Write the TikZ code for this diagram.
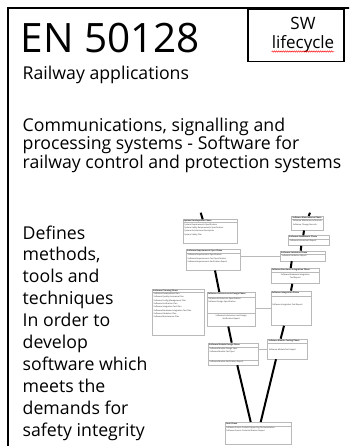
\documentclass[tikz,border=0pt]{standalone}
\usepackage{fontspec}
\setmainfont{Open Sans}
\usetikzlibrary{decorations.pathmorphing}
\tikzset{
 txt/.style={anchor=base west, inner sep=0pt, font=\fontsize{17.7}{18}\selectfont},
 swtxt/.style={anchor=base, inner sep=0pt, font=\fontsize{17}{18}\selectfont},
 phase/.style={draw=gray!55, line width=0.5pt, fill=white, inner sep=0pt},
 pline/.style={draw=gray!55, line width=0.4pt},
 hdr/.style={inner sep=0pt, anchor=north west, font=\fontsize{2}{2.3}\selectfont\bfseries, text=black!85},
 itm/.style={inner sep=0pt, anchor=north west, align=left, font=\fontsize{2}{3.3}\selectfont, text=black!85},
 itmc/.style={inner sep=0pt, anchor=north, align=center, font=\fontsize{2}{3}\selectfont, text=black!85},
 spine/.style={line width=2pt, black},
 link/.style={draw=gray!55, line width=0.5pt},
}
\newcommand\phasebox[8]{%
 \node[phase, anchor=north west, minimum width=#4pt, minimum height=#5pt] (#1) at (#2,#3) {};
 \draw[pline] ([yshift=-#6pt]#1.north west) -- ([yshift=-#6pt]#1.north east);
 \node[hdr] (#1h) at ([xshift=1pt,yshift=-0.7pt]#1.north west) {#7};
 \node[itm] (#1b) at ([xshift=1.5pt,yshift=-#6pt-0.9pt]#1.north west) {#8};
}
\begin{document}
\begin{tikzpicture}[x=1pt,y=-1pt]
\useasboundingbox (0,0) rectangle (349,446);
\begin{scope}
\clip (0,0) rectangle (349,446);
\draw[line width=2pt] (8.3,8.3) rectangle (370,470);
\end{scope}
\node[draw, line width=1.5pt, anchor=north west, minimum width=96pt, minimum height=52.5pt, inner sep=0pt] (swbox) at (247,8.3) {};
\node[swtxt] (sw1) at (303,30) {SW};
\node[swtxt] (sw2) at (303,48.3) {lifecycle};
\draw[red, line width=0.4pt, decorate, decoration={snake, amplitude=0.7pt, segment length=2.2pt}] ([yshift=-3.2pt]sw2.base west) -- ([yshift=-3.2pt]sw2.base east);

\node[anchor=base west, inner sep=0pt, font=\fontsize{40.5}{40}\selectfont] (title) at (20.5,53) {EN 50128};
\node[txt] (rail) at (22.5,80) {Railway applications};
\node[txt] (c1) at (22.5,131.7) {Communications, signalling and};
\node[txt] (c2) at (22.5,150) {processing systems - Software for};
\node[txt] (c3) at (22.5,168.3) {railway control and protection systems};

\node[txt] (d1) at (22.5,239) {Defines};
\node[txt] (d2) at (22.5,260.9) {methods,};
\node[txt] (d3) at (22.5,282.8) {tools and};
\node[txt] (d4) at (22.5,304.7) {techniques};
\node[txt] (d5) at (22.5,326.6) {In order to};
\node[txt] (d6) at (22.5,348.5) {develop};
\node[txt] (d7) at (22.5,370.4) {software which};
\node[txt] (d8) at (22.5,392.3) {meets the};
\node[txt] (d9) at (22.5,414.2) {demands for};
\node[txt] (d10) at (22.5,436.1) {safety integrity};

% V-model boxes
\phasebox{sysdev}{182.7}{219.3}{54.6}{24}{3.3}{System Development Phase}{System Requirements Specification\\System Safety Requirements Specification\\System Architecture Description\\System Safety Plan}
\phasebox{srs}{186}{249.3}{54}{20.7}{4}{Software Requirements Spec Phase}{Software Requirements Specification\\Software Requirements Test Specification\\Software Requirements Verification Report}
\phasebox{maint}{291.3}{216}{31.4}{14}{3.3}{Software Maintenance Phase}{Software Maintenance Records\\Software Change Records}
\phasebox{assess}{288}{235.3}{41.3}{10}{3.5}{Software Assessment Phase}{Software Assessment Report}
\phasebox{valid}{280}{250.7}{44.7}{10}{3.5}{Software Validation Phase}{Software Validation Report}
\phasebox{swhw}{270.7}{268}{48.6}{15.3}{4}{Software/Hardware Integration Phase}{}
\node[itmc] (swhwc) at ([yshift=-5.5pt]swhw.north) {Software/Hardware Integration\\Test Report};
\phasebox{integ}{270.7}{290.7}{40.6}{34.6}{5.5}{Software Integration Phase}{}
\node[itm] (integc) at ([xshift=1.5pt,yshift=-13.5pt]integ.north west) {Software Integration Test Report};
\phasebox{plan}{152}{288.7}{52}{46}{3.3}{Software Planning Phase}{Software Development Plan\\Software Quality Assurance Plan\\Software Config Management Plan\\Software Verification Plan\\Software Integration Test Plan\\Software/Hardware Integration Test Plan\\Software Validation Plan\\Software Maintenance Plan}
\phasebox{arch}{206.7}{292}{48.6}{34}{4.7}{Software Architecture \& Design Phase}{Software Architecture Specification\\Software Design Specification}
\draw[pline] ([yshift=-20.7pt]arch.north west) -- ([yshift=-20.7pt]arch.north east);
\node[itmc] (archc) at ([yshift=-23pt]arch.north) {Software Architecture and Design\\Verification Report};
\phasebox{moddes}{208}{342.7}{50}{22}{4}{Software Module Design Phase}{Software Module Design Spec\\Software Module Test Spec}
\draw[pline] ([yshift=-17.3pt]moddes.north west) -- ([yshift=-17.3pt]moddes.north east);
\node[itm] (moddesc) at ([xshift=1.5pt,yshift=-18.2pt]moddes.north west) {Software Module Verification Report};
\phasebox{modtest}{267.3}{338.7}{40}{20}{4}{Software Module Testing Phase}{}
\node[itm] (modtestc) at ([xshift=1.5pt,yshift=-10pt]modtest.north west) {Software Module Test Report};
\phasebox{code}{224.7}{422}{66.6}{22}{4}{Code Phase}{Software Source Code \& Supporting Documentation\\Software Source Code Verification Report}

% spine
\coordinate (top1) at (200.7,212.7);
\coordinate (top2) at (310,212.7);
\draw[spine] (top1) -- (sysdev.north -| 202.7,0);
\draw[spine] (top2) -- (maint.north -| 308.7,0);
\draw[spine] (srs.south -| 215,0) -- (arch.north -| 219.3,0);
\draw[spine] (arch.south -| 228.3,0) -- (moddes.north -| 231.7,0);
\draw[spine] (moddes.south -| 237.3,0) -- (code.north -| 250.7,0);
\draw[spine] (code.north -| 260.7,0) -- (modtest.south -| 276,0);
\draw[spine] (modtest.north -| 280.7,0) -- (integ.south -| 284,0);
\draw[spine] (integ.north -| 291,0) -- (swhw.south -| 292.3,0);
\draw[spine] (swhw.north -| 290.7,0) -- (valid.south -| 291.7,0);
\draw[spine] (valid.north -| 300.7,0) -- (assess.south -| 301.3,0);
\draw[spine] (assess.north -| 303.3,0) -- (maint.south -| 304,0);

% links
\draw[link] (srs.east |- valid.west) -- (valid.west);
\draw[link] (arch.east |- integ.west) -- (integ.west);
\draw[link] (moddes.east |- modtest.west) -- (modtest.west);
\end{tikzpicture}
\end{document}
